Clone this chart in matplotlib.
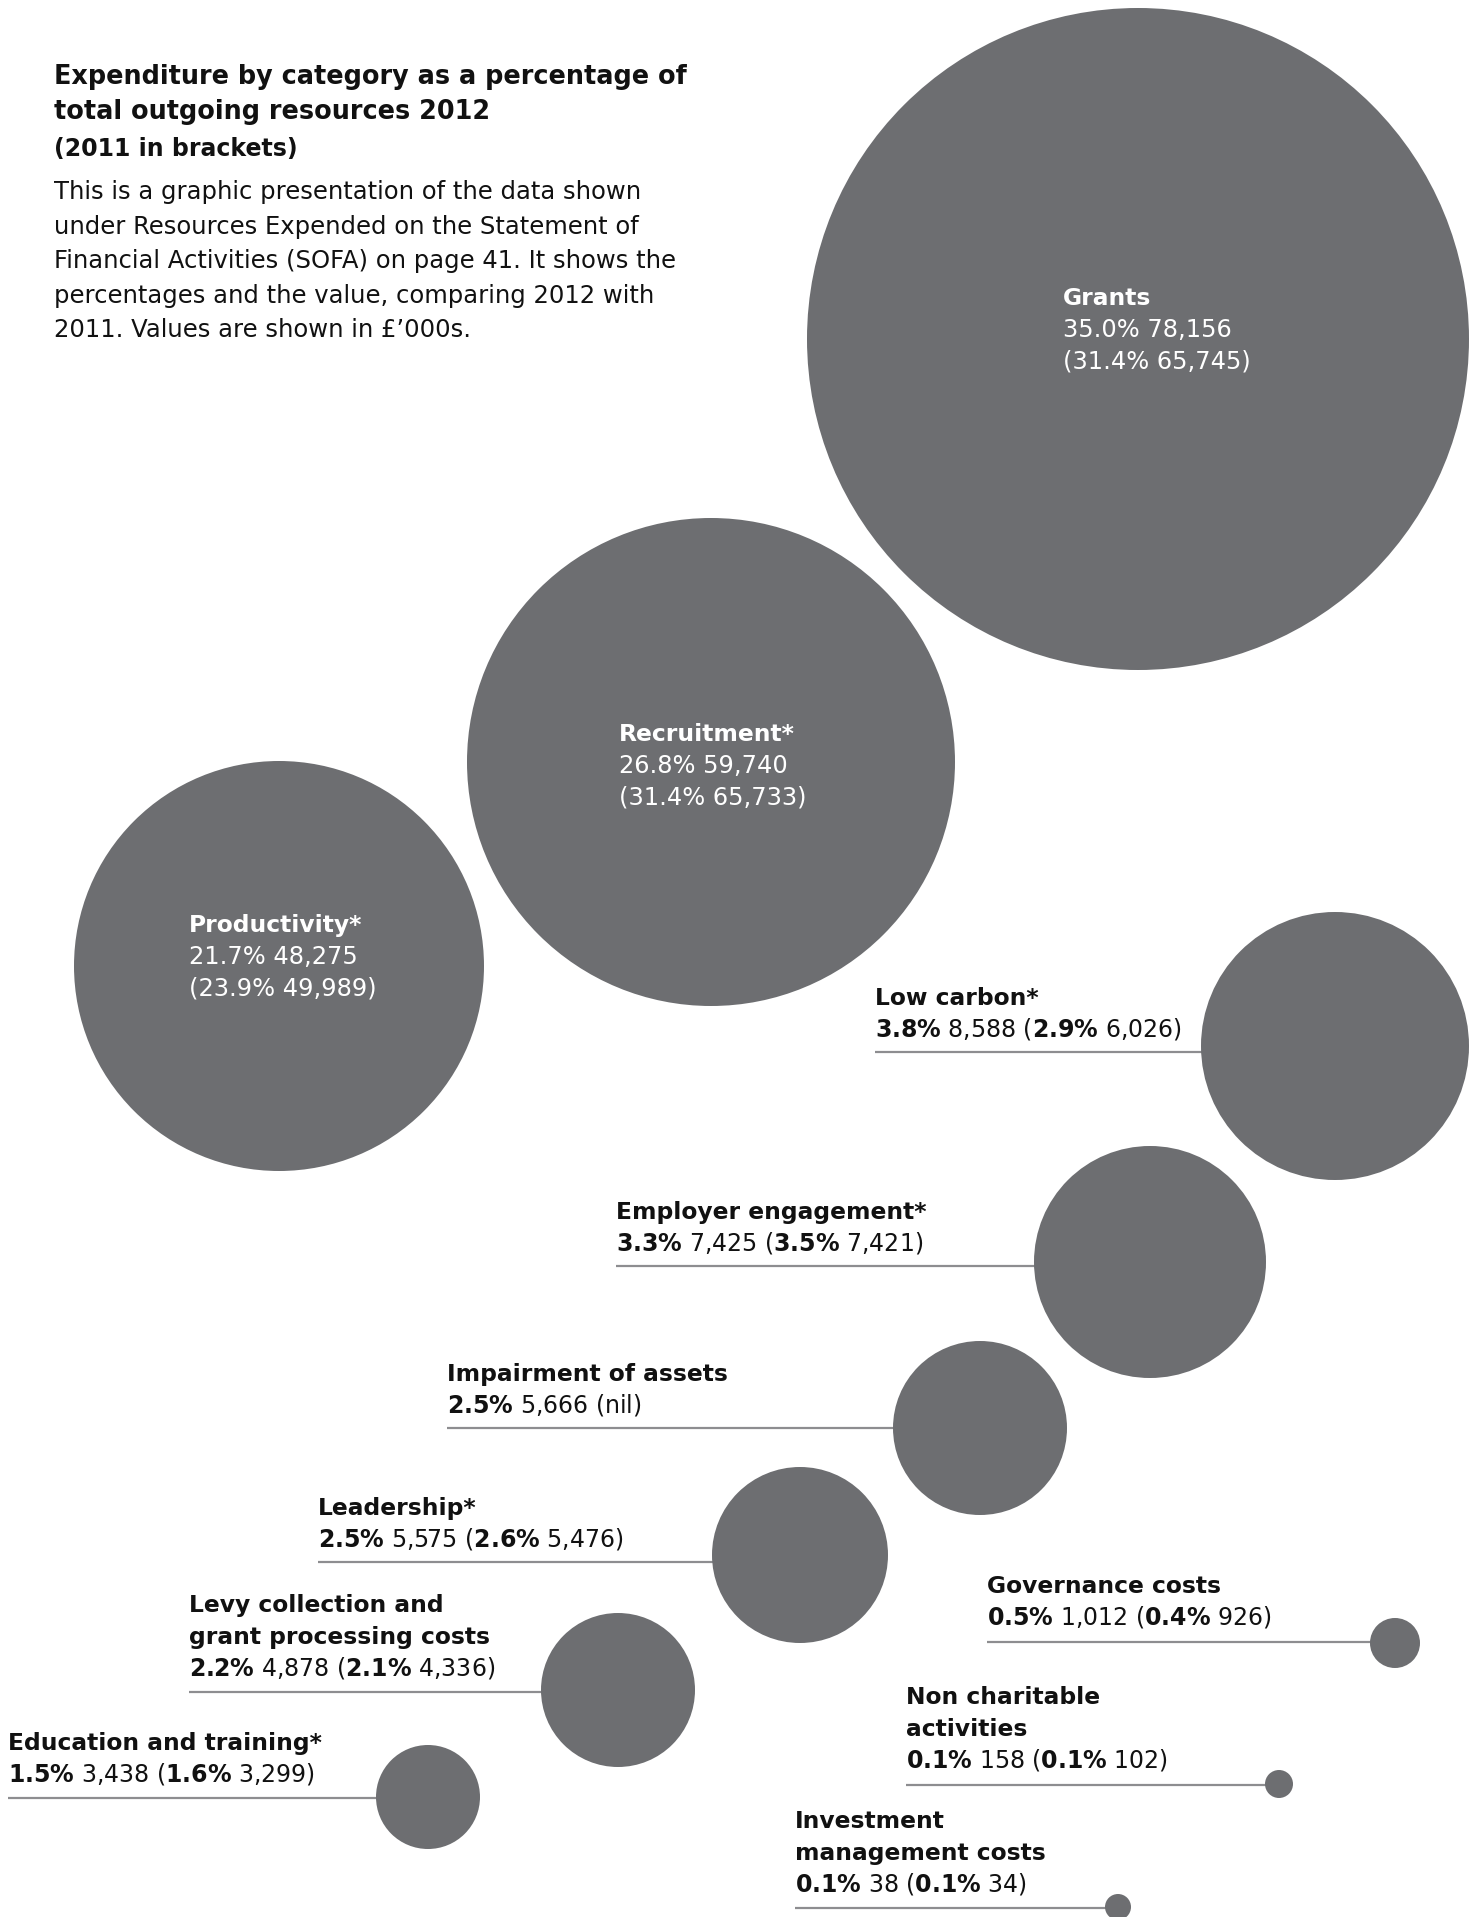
import matplotlib
matplotlib.use("Agg")
import matplotlib.pyplot as plt
from matplotlib.patches import Circle

plt.rcParams["font.family"] = ["DejaVu Sans"]
plt.rcParams["mathtext.fontset"] = "custom"
plt.rcParams["mathtext.rm"] = "DejaVu Sans"
plt.rcParams["mathtext.bf"] = "DejaVu Sans:bold"

# ---------------- data ----------------
categories = [
    "Grants",
    "Recruitment*",
    "Productivity*",
    "Low carbon*",
    "Employer engagement*",
    "Impairment of assets",
    "Leadership*",
    "Levy collection and\ngrant processing costs",
    "Education and training*",
    "Governance costs",
    "Non charitable\nactivities",
    "Investment\nmanagement costs",
]
pct_2012 = [35.0, 26.8, 21.7, 3.8, 3.3, 2.5, 2.5, 2.2, 1.5, 0.5, 0.1, 0.1]
val_2012 = [78156, 59740, 48275, 8588, 7425, 5666, 5575, 4878, 3438, 1012, 158, 38]
pct_2011 = [31.4, 31.4, 23.9, 2.9, 3.5, None, 2.6, 2.1, 1.6, 0.4, 0.1, 0.1]
val_2011 = [65745, 65733, 49989, 6026, 7421, None, 5476, 4336, 3299, 926, 102, 34]

title_lines = ["Expenditure by category as a percentage of",
               "total outgoing resources 2012"]
subtitle = "(2011 in brackets)"
body_lines = [
    "This is a graphic presentation of the data shown",
    "under Resources Expended on the Statement of",
    "Financial Activities (SOFA) on page 41. It shows the",
    "percentages and the value, comparing 2012 with",
    "2011. Values are shown in \u00a3\u2019000s.",
]

# ---------------- layout (pixel space of the page) ----------------
W, H = 1478, 1917
bubble_x = [1138, 711, 279, 1335, 1150, 980, 800, 618, 428, 1395, 1279, 1118]
bubble_y = [339, 762, 966, 1046, 1262, 1428, 1555, 1690, 1797, 1643, 1784, 1907]
bubble_r = [331, 244, 205, 134, 116, 87, 88, 77, 52, 25, 14, 13]
label_x = [1063, 619, 189, 875, 616, 447, 318, 189, 8, 987, 906, 795]
label_y = [305, 741, 932, 1005, 1219, 1381, 1515, 1612, 1750, 1593, 1704, 1828]
rule_y = [None, None, None, 1052, 1266, 1428, 1562, 1692, 1798, 1642, 1785, 1908]
inside = [True, True, True] + [False] * 9

LINE = 31.6
CIRCLE_COL = "#6d6e71"
RULE_COL = "#8d8d90"
INK = "#111111"

fig = plt.figure(figsize=(W / 100, H / 100), dpi=100)
ax = fig.add_axes([0, 0, 1, 1])
ax.set_xlim(0, W)
ax.set_ylim(H, 0)
ax.axis("off")

# title block
ty = 84
for ln in title_lines:
    ax.text(54, ty, ln, fontsize=18.4, fontweight="bold", color=INK, va="baseline", ha="left")
    ty += 35
ax.text(54, 156, subtitle, fontsize=17, fontweight="bold", color=INK, va="baseline", ha="left")
by = 199
for ln in body_lines:
    ax.text(54, by, ln, fontsize=17.5, color=INK, va="baseline", ha="left")
    by += 34.6


def bold_pct(p):
    return r"$\mathbf{%.1f\%%}$" % p


for i, name in enumerate(categories):
    ax.add_patch(Circle((bubble_x[i], bubble_y[i]), bubble_r[i], facecolor=CIRCLE_COL,
                        edgecolor="none", zorder=2))
    if inside[i]:
        y = label_y[i]
        ax.text(label_x[i], y, name, fontsize=16.8, fontweight="bold", color="white",
                va="baseline", ha="left", zorder=3)
        ax.text(label_x[i], y + LINE, f"{pct_2012[i]:.1f}% {val_2012[i]:,}", fontsize=17.4,
                color="white", va="baseline", ha="left", zorder=3)
        ax.text(label_x[i], y + 2 * LINE, f"({pct_2011[i]:.1f}% {val_2011[i]:,})", fontsize=17.4,
                color="white", va="baseline", ha="left", zorder=3)
    else:
        y = label_y[i]
        for ln in name.split("\n"):
            ax.text(label_x[i], y, ln, fontsize=16.8, fontweight="bold", color=INK,
                    va="baseline", ha="left", zorder=3)
            y += LINE
        if pct_2011[i] is None:
            prev = "nil"
        else:
            prev = f"{bold_pct(pct_2011[i])} {val_2011[i]:,}"
        s = f"{bold_pct(pct_2012[i])} {val_2012[i]:,} ({prev})"
        ax.text(label_x[i], y, s, fontsize=17.0, color=INK, va="baseline", ha="left", zorder=3)
        ax.plot([label_x[i], bubble_x[i]], [rule_y[i], rule_y[i]], color=RULE_COL,
                lw=1.6, solid_capstyle="butt", zorder=1)

fig.savefig("out.png", dpi=100, facecolor="white")
